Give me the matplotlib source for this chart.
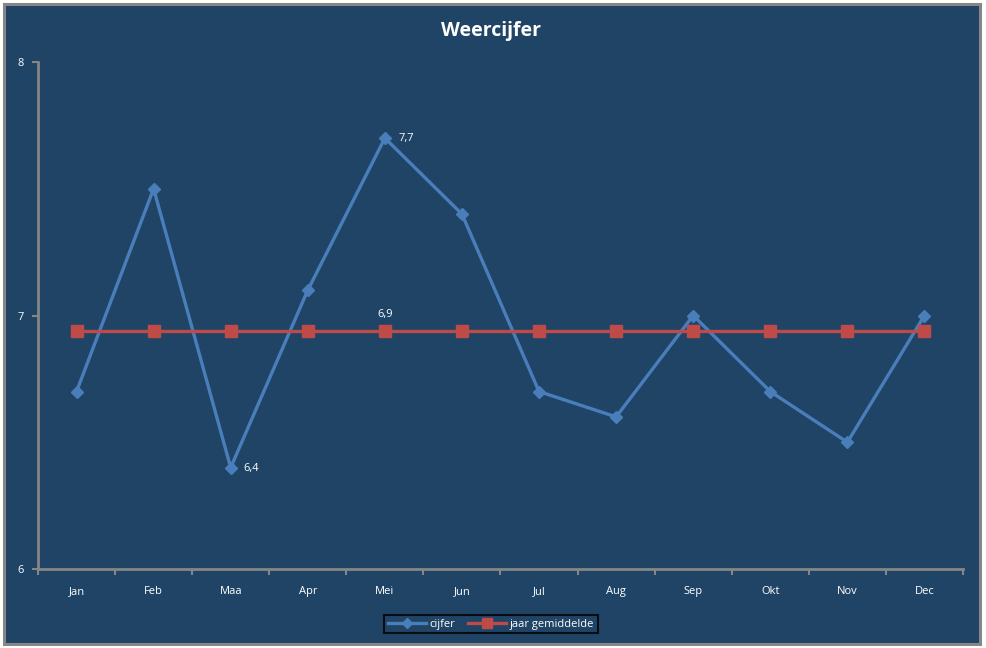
import matplotlib
matplotlib.use("Agg")
import matplotlib.pyplot as plt
from matplotlib.patches import Rectangle
import numpy as np

months = ["Jan", "Feb", "Maa", "Apr", "Mei", "Jun", "Jul", "Aug", "Sep", "Okt", "Nov", "Dec"]
cijfer = [6.7, 7.5, 6.4, 7.1, 7.7, 7.4, 6.7, 6.6, 7.0, 6.7, 6.5, 7.0]
gemiddelde = [6.94] * 12
y_ticks = [6, 7, 8]

BG = "#1F4466"
BLUE = "#4A7EBB"
RED = "#BE4B48"
GRAY = "#868686"
FONT = ["Open Sans", "DejaVu Sans"]

W, H = 987, 648
fig = plt.figure(figsize=(W / 100, H / 100), dpi=100, facecolor="white")
plt.rcParams['font.family'] = FONT

# chart area background with gray border
fig.patches.append(Rectangle((4 / W, 4 / H), (980 - 4) / W, (644 - 4) / H,
                             transform=fig.transFigure, facecolor=BG,
                             edgecolor=GRAY, linewidth=2.2, zorder=-10))

ax = fig.add_axes([38 / W, 1 - 569 / H, (963 - 38) / W, (569 - 62) / H])
ax.set_facecolor(BG)
ax.patch.set_alpha(0)

x = np.arange(len(months))
ax.plot(x, cijfer, color=BLUE, lw=2.4, marker="D", ms=6, mfc=BLUE, mec=BLUE,
        label="cijfer", zorder=3, clip_on=False)
ax.plot(x, gemiddelde, color=RED, lw=2.4, marker="s", ms=8, mfc=RED, mec=RED,
        label="jaar gemiddelde", zorder=4, clip_on=False)

ax.set_xlim(-0.5, 11.5)
ax.set_ylim(6, 8)
ax.set_yticks(y_ticks)
ax.set_yticklabels([str(v) for v in y_ticks])
ax.set_xticks(x)
ax.set_xticklabels(months)
ax.set_xticks(np.arange(-0.5, 12, 1), minor=True)
ax.tick_params(axis="x", which="major", length=0, pad=12, colors="white", labelsize=8)
ax.tick_params(axis="x", which="minor", length=4, width=1.5, color=GRAY, direction="out")
ax.tick_params(axis="y", which="major", length=4, width=1.5, color=GRAY, labelcolor="white",
               labelsize=8, pad=6)

for s in ["top", "right"]:
    ax.spines[s].set_visible(False)
for s in ["left", "bottom"]:
    ax.spines[s].set_color(GRAY)
    ax.spines[s].set_linewidth(2)

# data labels
ax.annotate("7,7", (4, cijfer[4]), xytext=(10, 0), textcoords="offset points",
            color="white", fontsize=8, va="center", ha="left")
ax.annotate("6,4", (2, cijfer[2]), xytext=(9, -1), textcoords="offset points",
            color="white", fontsize=8, va="center", ha="left")
ax.annotate("6,9", (4, gemiddelde[4]), xytext=(0, 12), textcoords="offset points",
            color="white", fontsize=8, va="center", ha="center")

fig.text(491 / W, 1 - 31 / H, "Weercijfer", color="white", fontsize=14,
         fontweight="bold", ha="center", va="center")

leg = fig.legend(loc="center", bbox_to_anchor=(491 / W, 1 - 624 / H), ncol=2,
                 frameon=True, fontsize=8, handlelength=3.4, columnspacing=1.2,
                 handletextpad=0.3, borderpad=0.35, fancybox=False,
                 markerscale=0.9)
leg.get_frame().set_facecolor(BG)
leg.get_frame().set_edgecolor("black")
leg.get_frame().set_linewidth(1.5)
for t in leg.get_texts():
    t.set_color("white")

fig.savefig("out.png", dpi=100, facecolor="white")
